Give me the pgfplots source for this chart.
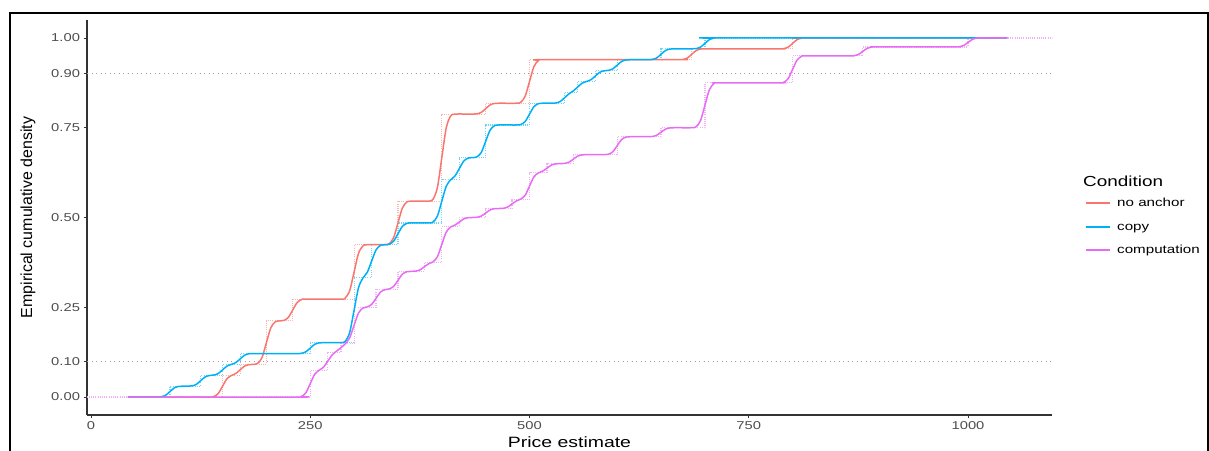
\documentclass[border=0pt]{standalone}
\usepackage{fontspec}
\setmainfont{Liberation Sans}
\newfontfamily\widefont[FakeStretch=1.3]{Liberation Sans}
\usepackage{pgfplots}
\pgfplotsset{compat=1.18}
\definecolor{cRed}{HTML}{F8766D}
\definecolor{cBlue}{HTML}{00B0F6}
\definecolor{cMag}{HTML}{E76BF3}
\definecolor{tickgray}{HTML}{4D4D4D}
\definecolor{axgray}{HTML}{333333}
\begin{document}
\begin{tikzpicture}[x=1bp,y=1bp]
\useasboundingbox (0,0) rectangle (1209,451);
\draw[black, line width=1.5bp] (10,0) -- (10,438) -- (1208,438) -- (1208,0);
\begin{axis}[
  at={(87bp,36bp)}, anchor=south west,
  scale only axis, width=965bp, height=395bp,
  xmin=-4.6, xmax=1095.8, ymin=-0.05, ymax=1.05,
  axis lines*=left,
  axis line style={axgray, line width=1.1bp},
  tick align=outside, major tick length=3.5bp,
  tick style={axgray, line width=0.8bp},
  xtick={0,250,500,750,1000},
  xticklabels={0,250,500,750,1000},
  ytick={0,0.1,0.25,0.5,0.75,0.9,1},
  yticklabels={0.00,0.10,0.25,0.50,0.75,0.90,1.00},
  ticklabel style={font=\widefont\fontsize{11.4}{13}\selectfont, color=tickgray},
  extra y ticks={0.1,0.9}, extra y tick labels={},
  extra y tick style={grid=major, major tick length=0pt,
     major grid style={gray!75, line width=1bp, dash pattern=on 1bp off 3.5bp}},
  every axis x label/.style={at={(rel axis cs:0.5,0)}, yshift=-27.5bp, anchor=center,
     font=\widefont\fontsize{15}{18}\selectfont},
  every axis y label/.style={at={(rel axis cs:0,0.5)}, xshift=-59bp, rotate=90, anchor=center,
     font=\fontsize{16}{18}\selectfont},
  xlabel={Price estimate},
  ylabel={Empirical cumulative density},
  ecdfstep/.style={const plot, forget plot, line width=1.2bp, dash pattern=on 1bp off 1.2bp},
  ecdfsmooth/.style={smooth, solid, line width=1.5bp},
]
% empirical step functions (dotted)
\addplot[ecdfstep, color=cRed!55!white] coordinates {(-10,0) (150,0.0606) (170,0.0909) (200,0.2121) (230,0.2727) (300,0.4242) (350,0.5455) (400,0.7879) (450,0.8182) (500,0.9394) (685,0.9697) (800,1) (1100,1)};
\addplot[ecdfstep, color=cBlue!55!white] coordinates {(-10,0) (90,0.0303) (125,0.0606) (150,0.0909) (170,0.1212) (250,0.1515) (300,0.3333) (320,0.4242) (350,0.4848) (400,0.6061) (420,0.6667) (450,0.7576) (500,0.8182) (540,0.8485) (555,0.8788) (575,0.9091) (600,0.9394) (650,0.9697) (700,1) (1100,1)};
\addplot[ecdfstep, color=cMag!55!white] coordinates {(-10,0) (250,0.075) (270,0.125) (285,0.15) (300,0.25) (325,0.30) (350,0.35) (380,0.375) (400,0.475) (420,0.5) (450,0.525) (480,0.55) (500,0.625) (520,0.65) (550,0.675) (600,0.725) (650,0.75) (700,0.875) (800,0.95) (880,0.975) (1000,1) (1100,1)};
% smoothed curves
\addplot[ecdfsmooth, color=cRed] coordinates {(42,0) (135,0) (140,0.0014) (145,0.0096) (150,0.0303) (155,0.0510) (160,0.0599) (165,0.0654) (170,0.0758) (175,0.0861) (180,0.0902) (185,0.0909) (190,0.0937) (195,0.1102) (200,0.1515) (205,0.1928) (210,0.2093) (215,0.2121) (220,0.2135) (225,0.2218) (230,0.2424) (235,0.2631) (240,0.2713) (245,0.2727) (285,0.2727) (290,0.2762) (295,0.2968) (300,0.3485) (305,0.4002) (310,0.4208) (315,0.4242) (335,0.4242) (340,0.4270) (345,0.4435) (350,0.4848) (355,0.5262) (360,0.5427) (365,0.5455) (385,0.5455) (390,0.5510) (395,0.5840) (400,0.6667) (405,0.7493) (410,0.7823) (415,0.7879) (435,0.7879) (440,0.7886) (445,0.7927) (450,0.8030) (455,0.8134) (460,0.8175) (465,0.8182) (485,0.8182) (490,0.8210) (495,0.8375) (500,0.8788) (505,0.9201) (510,0.9366) (515,0.9394) (670,0.9394) (675,0.9401) (680,0.9442) (685,0.9545) (690,0.9649) (695,0.9690) (700,0.9697) (785,0.9697) (790,0.9704) (795,0.9745) (800,0.9848) (805,0.9952) (810,0.9993) (815,1) (1045,1)};
\addplot[ecdfsmooth, color=cBlue] coordinates {(42,0) (75,0) (80,0.0007) (85,0.0048) (90,0.0152) (95,0.0255) (100,0.0296) (105,0.0303) (110,0.0303) (115,0.0310) (120,0.0351) (125,0.0455) (130,0.0558) (135,0.0599) (140,0.0613) (145,0.0654) (150,0.0758) (155,0.0861) (160,0.0909) (165,0.0957) (170,0.1061) (175,0.1164) (180,0.1205) (185,0.1212) (235,0.1212) (240,0.1219) (245,0.1260) (250,0.1364) (255,0.1467) (260,0.1508) (265,0.1515) (285,0.1515) (290,0.1557) (295,0.1804) (300,0.2424) (305,0.3045) (310,0.3312) (315,0.3476) (320,0.3788) (325,0.4098) (330,0.4222) (335,0.4242) (340,0.4256) (345,0.4339) (350,0.4545) (355,0.4752) (360,0.4835) (365,0.4848) (385,0.4848) (390,0.4876) (395,0.5041) (400,0.5455) (405,0.5868) (410,0.6047) (415,0.6156) (420,0.6364) (425,0.6570) (430,0.6653) (435,0.6667) (440,0.6688) (445,0.6811) (450,0.7121) (455,0.7431) (460,0.7555) (465,0.7576) (485,0.7576) (490,0.7590) (495,0.7672) (500,0.7879) (505,0.8085) (510,0.8168) (515,0.8182) (525,0.8182) (530,0.8189) (535,0.8230) (540,0.8334) (545,0.8444) (550,0.8526) (555,0.8636) (560,0.8740) (565,0.8788) (570,0.8836) (575,0.8939) (580,0.9043) (585,0.9084) (590,0.9098) (595,0.9139) (600,0.9242) (605,0.9346) (610,0.9387) (615,0.9394) (635,0.9394) (640,0.9401) (645,0.9442) (650,0.9545) (655,0.9649) (660,0.9690) (665,0.9697) (685,0.9697) (690,0.9704) (695,0.9745) (700,0.9848) (705,0.9952) (710,0.9993) (715,1) (1045,1)};
\addplot[ecdfsmooth, color=cMag] coordinates {(42,0) (235,0) (240,0.0017) (245,0.0119) (250,0.0375) (255,0.0631) (260,0.0744) (265,0.0829) (270,0.1000) (275,0.1176) (280,0.1278) (285,0.1376) (290,0.1483) (295,0.1653) (300,0.2000) (305,0.2341) (310,0.2477) (315,0.2511) (320,0.2580) (325,0.2750) (330,0.2921) (335,0.2989) (340,0.3011) (345,0.3080) (350,0.3250) (355,0.3421) (360,0.3489) (365,0.3500) (370,0.3506) (375,0.3540) (380,0.3625) (385,0.3711) (390,0.3767) (395,0.3909) (400,0.4250) (405,0.4591) (410,0.4733) (415,0.4789) (420,0.4875) (425,0.4960) (430,0.4994) (435,0.5000) (440,0.5006) (445,0.5040) (450,0.5125) (455,0.5210) (460,0.5244) (465,0.5250) (470,0.5256) (475,0.5290) (480,0.5375) (485,0.5461) (490,0.5512) (495,0.5619) (500,0.5875) (505,0.6131) (510,0.6239) (515,0.6289) (520,0.6375) (525,0.6460) (530,0.6494) (535,0.6500) (540,0.6506) (545,0.6540) (550,0.6625) (555,0.6710) (560,0.6744) (565,0.6750) (585,0.6750) (590,0.6762) (595,0.6830) (600,0.7000) (605,0.7171) (610,0.7239) (615,0.7250) (635,0.7250) (640,0.7256) (645,0.7290) (650,0.7375) (655,0.7460) (660,0.7494) (665,0.7500) (685,0.7500) (690,0.7529) (695,0.7699) (700,0.8125) (705,0.8551) (710,0.8721) (715,0.8750) (785,0.8750) (790,0.8767) (795,0.8869) (800,0.9125) (805,0.9381) (810,0.9483) (815,0.9500) (865,0.9500) (870,0.9506) (875,0.9540) (880,0.9625) (885,0.9710) (890,0.9744) (895,0.9750) (985,0.9750) (990,0.9756) (995,0.9790) (1000,0.9875) (1005,0.9960) (1010,0.9994) (1015,1) (1045,1)};
\end{axis}
% legend
\node[anchor=west, inner sep=0pt, font=\widefont\fontsize{14.6}{17}\selectfont] at (1083,269.3) {Condition};
\draw[cRed, line width=1.6bp] (1086,248) -- (1110,248);
\draw[cBlue, line width=1.6bp] (1086,224) -- (1110,224);
\draw[cMag, line width=1.6bp] (1086,201) -- (1110,201);
\begin{scope}[every node/.style={anchor=base west, inner sep=0pt, font=\widefont\fontsize{11.7}{14}\selectfont}]
\node at (1117,244.3) {no anchor};
\node at (1117,220.3) {copy};
\node at (1117,197.3) {computation};
\end{scope}
\end{tikzpicture}
\end{document}
